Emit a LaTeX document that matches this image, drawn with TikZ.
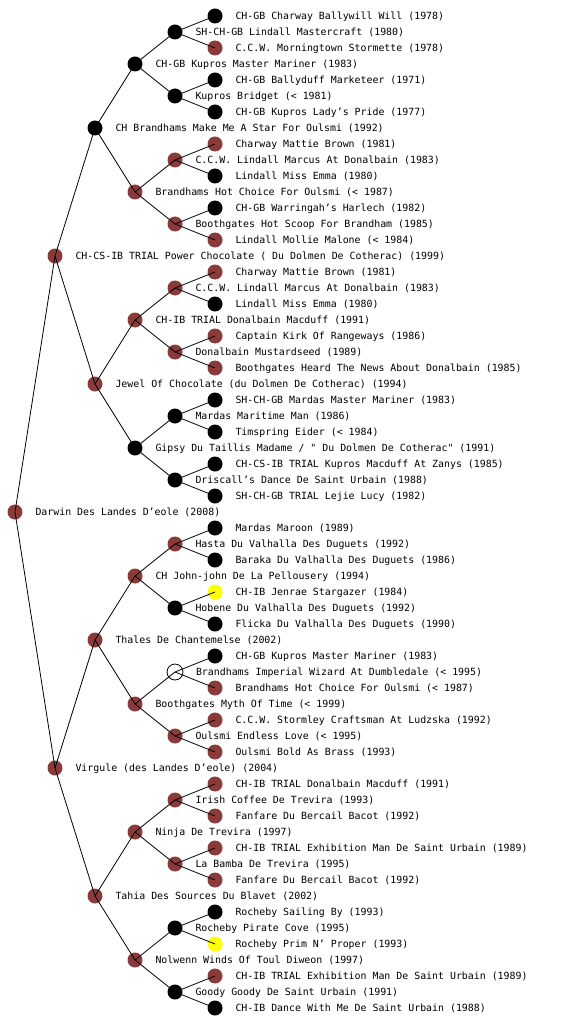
\documentclass[tikz,border=0pt]{standalone}
\usepackage{fontspec}
\newfontfamily\pedfont{DejaVu Sans Mono}
\usepackage{tikz}
\usetikzlibrary{positioning}
\definecolor{ink}{HTML}{000000}
\definecolor{liver}{HTML}{8B3A3A}
\definecolor{lemon}{HTML}{FFFF00}

\begin{document}
\begin{tikzpicture}[
  x=1pt,y=-1pt,
  node distance=13pt,
  dog/.style={circle,inner sep=0pt,outer sep=0pt,minimum size=15pt},
  blk/.style={dog,fill=ink},
  brn/.style={dog,fill=liver},
  ylw/.style={dog,fill=lemon},
  hollow/.style={dog,draw=ink,line width=0.8pt,minimum size=16pt},
  lbl/.style={inner sep=0pt,outer sep=0pt,anchor=west,text height=7.2pt,text depth=0pt,font=\pedfont\fontsize{9.9}{12}\selectfont},
  link/.style={draw=ink,line width=0.8pt}
]
\useasboundingbox (0,0) rectangle (560,1024);
% proband
\node[brn] (p) at (15,512) {};
\node[lbl,right=of p] (p-t) {Darwin Des Landes D’eole (2008)};
% parents
\node[brn] (ps) at (55,256) {};
\node[lbl,right=of ps] (ps-t) {CH-CS-IB TRIAL Power Chocolate ( Du Dolmen De Cotherac) (1999)};
\node[brn] (pd) at (55,768) {};
\node[lbl,right=of pd] (pd-t) {Virgule (des Landes D’eole) (2004)};
% grandparents
\node[blk] (pss) at (95,128) {};
\node[lbl,right=of pss] (pss-t) {CH Brandhams Make Me A Star For Oulsmi (1992)};
\node[brn] (psd) at (95,384) {};
\node[lbl,right=of psd] (psd-t) {Jewel Of Chocolate (du Dolmen De Cotherac) (1994)};
\node[brn] (pds) at (95,640) {};
\node[lbl,right=of pds] (pds-t) {Thales De Chantemelse (2002)};
\node[brn] (pdd) at (95,896) {};
\node[lbl,right=of pdd] (pdd-t) {Tahia Des Sources Du Blavet (2002)};
% great-grandparents
\node[blk] (psss) at (135,64) {};
\node[lbl,right=of psss] (psss-t) {CH-GB Kupros Master Mariner (1983)};
\node[brn] (pssd) at (135,192) {};
\node[lbl,right=of pssd] (pssd-t) {Brandhams Hot Choice For Oulsmi (< 1987)};
\node[brn] (psds) at (135,320) {};
\node[lbl,right=of psds] (psds-t) {CH-IB TRIAL Donalbain Macduff (1991)};
\node[blk] (psdd) at (135,448) {};
\node[lbl,right=of psdd] (psdd-t) {Gipsy Du Taillis Madame / " Du Dolmen De Cotherac" (1991)};
\node[brn] (pdss) at (135,576) {};
\node[lbl,right=of pdss] (pdss-t) {CH John-john De La Pellousery (1994)};
\node[brn] (pdsd) at (135,704) {};
\node[lbl,right=of pdsd] (pdsd-t) {Boothgates Myth Of Time (< 1999)};
\node[brn] (pdds) at (135,832) {};
\node[lbl,right=of pdds] (pdds-t) {Ninja De Trevira (1997)};
\node[brn] (pddd) at (135,960) {};
\node[lbl,right=of pddd] (pddd-t) {Nolwenn Winds Of Toul Diweon (1997)};
% generation 4
\node[blk] (pssss) at (175,32) {};
\node[lbl,right=of pssss] (pssss-t) {SH-CH-GB Lindall Mastercraft (1980)};
\node[blk] (psssd) at (175,96) {};
\node[lbl,right=of psssd] (psssd-t) {Kupros Bridget (< 1981)};
\node[brn] (pssds) at (175,160) {};
\node[lbl,right=of pssds] (pssds-t) {C.C.W. Lindall Marcus At Donalbain (1983)};
\node[brn] (pssdd) at (175,224) {};
\node[lbl,right=of pssdd] (pssdd-t) {Boothgates Hot Scoop For Brandham (1985)};
\node[brn] (psdss) at (175,288) {};
\node[lbl,right=of psdss] (psdss-t) {C.C.W. Lindall Marcus At Donalbain (1983)};
\node[brn] (psdsd) at (175,352) {};
\node[lbl,right=of psdsd] (psdsd-t) {Donalbain Mustardseed (1989)};
\node[blk] (psdds) at (175,416) {};
\node[lbl,right=of psdds] (psdds-t) {Mardas Maritime Man (1986)};
\node[blk] (psddd) at (175,480) {};
\node[lbl,right=of psddd] (psddd-t) {Driscall’s Dance De Saint Urbain (1988)};
\node[brn] (pdsss) at (175,544) {};
\node[lbl,right=of pdsss] (pdsss-t) {Hasta Du Valhalla Des Duguets (1992)};
\node[blk] (pdssd) at (175,608) {};
\node[lbl,right=of pdssd] (pdssd-t) {Hobene Du Valhalla Des Duguets (1992)};
\node[hollow] (pdsds) at (175,672) {};
\node[lbl,right=of pdsds] (pdsds-t) {Brandhams Imperial Wizard At Dumbledale (< 1995)};
\node[brn] (pdsdd) at (175,736) {};
\node[lbl,right=of pdsdd] (pdsdd-t) {Oulsmi Endless Love (< 1995)};
\node[brn] (pddss) at (175,800) {};
\node[lbl,right=of pddss] (pddss-t) {Irish Coffee De Trevira (1993)};
\node[brn] (pddsd) at (175,864) {};
\node[lbl,right=of pddsd] (pddsd-t) {La Bamba De Trevira (1995)};
\node[blk] (pddds) at (175,928) {};
\node[lbl,right=of pddds] (pddds-t) {Rocheby Pirate Cove (1995)};
\node[blk] (pdddd) at (175,992) {};
\node[lbl,right=of pdddd] (pdddd-t) {Goody Goody De Saint Urbain (1991)};
% generation 5
\node[blk] (psssss) at (215,16) {};
\node[lbl,right=of psssss] (psssss-t) {CH-GB Charway Ballywill Will (1978)};
\node[brn] (pssssd) at (215,48) {};
\node[lbl,right=of pssssd] (pssssd-t) {C.C.W. Morningtown Stormette (1978)};
\node[blk] (psssds) at (215,80) {};
\node[lbl,right=of psssds] (psssds-t) {CH-GB Ballyduff Marketeer (1971)};
\node[blk] (psssdd) at (215,112) {};
\node[lbl,right=of psssdd] (psssdd-t) {CH-GB Kupros Lady’s Pride (1977)};
\node[brn] (pssdss) at (215,144) {};
\node[lbl,right=of pssdss] (pssdss-t) {Charway Mattie Brown (1981)};
\node[blk] (pssdsd) at (215,176) {};
\node[lbl,right=of pssdsd] (pssdsd-t) {Lindall Miss Emma (1980)};
\node[blk] (pssdds) at (215,208) {};
\node[lbl,right=of pssdds] (pssdds-t) {CH-GB Warringah’s Harlech (1982)};
\node[brn] (pssddd) at (215,240) {};
\node[lbl,right=of pssddd] (pssddd-t) {Lindall Mollie Malone (< 1984)};
\node[brn] (psdsss) at (215,272) {};
\node[lbl,right=of psdsss] (psdsss-t) {Charway Mattie Brown (1981)};
\node[blk] (psdssd) at (215,304) {};
\node[lbl,right=of psdssd] (psdssd-t) {Lindall Miss Emma (1980)};
\node[brn] (psdsds) at (215,336) {};
\node[lbl,right=of psdsds] (psdsds-t) {Captain Kirk Of Rangeways (1986)};
\node[brn] (psdsdd) at (215,368) {};
\node[lbl,right=of psdsdd] (psdsdd-t) {Boothgates Heard The News About Donalbain (1985)};
\node[blk] (psddss) at (215,400) {};
\node[lbl,right=of psddss] (psddss-t) {SH-CH-GB Mardas Master Mariner (1983)};
\node[blk] (psddsd) at (215,432) {};
\node[lbl,right=of psddsd] (psddsd-t) {Timspring Eider (< 1984)};
\node[blk] (psddds) at (215,464) {};
\node[lbl,right=of psddds] (psddds-t) {CH-CS-IB TRIAL Kupros Macduff At Zanys (1985)};
\node[blk] (psdddd) at (215,496) {};
\node[lbl,right=of psdddd] (psdddd-t) {SH-CH-GB TRIAL Lejie Lucy (1982)};
\node[blk] (pdssss) at (215,528) {};
\node[lbl,right=of pdssss] (pdssss-t) {Mardas Maroon (1989)};
\node[blk] (pdsssd) at (215,560) {};
\node[lbl,right=of pdsssd] (pdsssd-t) {Baraka Du Valhalla Des Duguets (1986)};
\node[ylw] (pdssds) at (215,592) {};
\node[lbl,right=of pdssds] (pdssds-t) {CH-IB Jenrae Stargazer (1984)};
\node[blk] (pdssdd) at (215,624) {};
\node[lbl,right=of pdssdd] (pdssdd-t) {Flicka Du Valhalla Des Duguets (1990)};
\node[blk] (pdsdss) at (215,656) {};
\node[lbl,right=of pdsdss] (pdsdss-t) {CH-GB Kupros Master Mariner (1983)};
\node[brn] (pdsdsd) at (215,688) {};
\node[lbl,right=of pdsdsd] (pdsdsd-t) {Brandhams Hot Choice For Oulsmi (< 1987)};
\node[brn] (pdsdds) at (215,720) {};
\node[lbl,right=of pdsdds] (pdsdds-t) {C.C.W. Stormley Craftsman At Ludzska (1992)};
\node[brn] (pdsddd) at (215,752) {};
\node[lbl,right=of pdsddd] (pdsddd-t) {Oulsmi Bold As Brass (1993)};
\node[brn] (pddsss) at (215,784) {};
\node[lbl,right=of pddsss] (pddsss-t) {CH-IB TRIAL Donalbain Macduff (1991)};
\node[brn] (pddssd) at (215,816) {};
\node[lbl,right=of pddssd] (pddssd-t) {Fanfare Du Bercail Bacot (1992)};
\node[brn] (pddsds) at (215,848) {};
\node[lbl,right=of pddsds] (pddsds-t) {CH-IB TRIAL Exhibition Man De Saint Urbain (1989)};
\node[brn] (pddsdd) at (215,880) {};
\node[lbl,right=of pddsdd] (pddsdd-t) {Fanfare Du Bercail Bacot (1992)};
\node[blk] (pdddss) at (215,912) {};
\node[lbl,right=of pdddss] (pdddss-t) {Rocheby Sailing By (1993)};
\node[ylw] (pdddsd) at (215,944) {};
\node[lbl,right=of pdddsd] (pdddsd-t) {Rocheby Prim N’ Proper (1993)};
\node[brn] (pdddds) at (215,976) {};
\node[lbl,right=of pdddds] (pdddds-t) {CH-IB TRIAL Exhibition Man De Saint Urbain (1989)};
\node[blk] (pddddd) at (215,1008) {};
\node[lbl,right=of pddddd] (pddddd-t) {CH-IB Dance With Me De Saint Urbain (1988)};
% sire and dam links, drawn over the dots
\foreach \a in {p,ps,pd,pss,psd,pds,pdd,psss,pssd,psds,psdd,pdss,pdsd,pdds,pddd,
  pssss,psssd,pssds,pssdd,psdss,psdsd,psdds,psddd,pdsss,pdssd,pdsds,pdsdd,pddss,pddsd,pddds,pdddd}
  \draw[link] (\a.center) -- (\a s.center) (\a.center) -- (\a d.center);
\end{tikzpicture}
\end{document}
